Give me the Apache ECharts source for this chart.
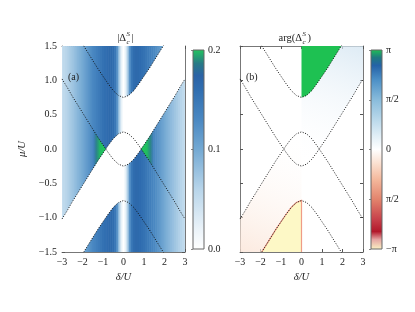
<!DOCTYPE html>
<html><head><meta charset="utf-8">
<script src="https://cdn.jsdelivr.net/npm/echarts@6/dist/echarts.min.js"></script>
<style>html,body{margin:0;padding:0;background:#fff}#c{width:415px;height:312px}</style>
</head><body><div id="c"></div>
<script>
// ---- data ----
const deltaTicks = [-3,-2,-1,0,1,2,3];
const muTicks = [-1.5,-1.0,-0.5,0.0,0.5,1.0,1.5];
const absTicks = [0.0,0.1,0.2];
const argTickLabels = ['\u2212\u03c0','\u03c0/2','0','\u03c0/2','\u03c0'];
const argTickPos = [-2,-1,0,1,2];

// |Delta| profile across delta (columns)
const profileDelta = [-3,-2.9,-2.8,-2.7,-2.6,-2.5,-2.4,-2.3,-2.2,-2.1,-2,-1.9,-1.8,-1.7,-1.6,-1.5,-1.4,-1.3,-1.2,-1.1,-1,-0.9,-0.8,-0.7,-0.6,-0.5,-0.4,-0.3,-0.2,-0.1,0,0.1,0.2,0.3,0.4,0.5,0.6,0.7,0.8,0.9,1,1.1,1.2,1.3,1.4,1.5,1.6,1.7,1.8,1.9,2,2.1,2.2,2.3,2.4,2.5,2.6,2.7,2.8,2.9,3];
const profileAbs = [0.05,0.055,0.06,0.065,0.07,0.075,0.08,0.085,0.09,0.095,0.1,0.106,0.112,0.118,0.124,0.13,0.135,0.14,0.145,0.15,0.155,0.159,0.162,0.165,0.165,0.161,0.148,0.118,0.065,0.022,0.0,0.022,0.065,0.118,0.148,0.161,0.165,0.165,0.162,0.159,0.155,0.15,0.145,0.14,0.135,0.13,0.124,0.118,0.112,0.106,0.1,0.095,0.09,0.085,0.08,0.075,0.07,0.065,0.06,0.055,0.05];

// dotted boundary curves
const curveDelta = [-3,-2.75,-2.5,-2.25,-2,-1.75,-1.5,-1.25,-1,-0.75,-0.5,-0.25,0,0.25,0.5,0.75,1,1.25,1.5,1.75,2,2.25,2.5,2.75,3];
const curveA = [2.02,1.90,1.77,1.65,1.53,1.41,1.29,1.17,1.06,0.95,0.85,0.78,0.75,0.78,0.85,0.95,1.06,1.17,1.29,1.41,1.53,1.65,1.77,1.90,2.02];
const curveB = [-1.02,-0.90,-0.77,-0.65,-0.53,-0.41,-0.29,-0.17,-0.06,0.05,0.15,0.22,0.25,0.22,0.15,0.05,-0.06,-0.17,-0.29,-0.41,-0.53,-0.65,-0.77,-0.90,-1.02];
const curveC = [1.02,0.90,0.77,0.65,0.53,0.41,0.29,0.17,0.06,-0.05,-0.15,-0.22,-0.25,-0.22,-0.15,-0.05,0.06,0.17,0.29,0.41,0.53,0.65,0.77,0.90,1.02];
const curveD = [-2.02,-1.90,-1.77,-1.65,-1.53,-1.41,-1.29,-1.17,-1.06,-0.95,-0.85,-0.78,-0.75,-0.78,-0.85,-0.95,-1.06,-1.17,-1.29,-1.41,-1.53,-1.65,-1.77,-1.90,-2.02];
const crossings = [[-0.86,0],[0.86,0]];

// ---- colour maps ----
const absStops = [[0,'#ffffff'],[0.1,'#ebf3f9'],[0.3,'#b8d5ea'],[0.5,'#74a9d3'],[0.65,'#4a88c2'],[0.8,'#306eb0'],[0.87,'#2b63a6'],[0.93,'#287a86'],[1,'#22c55e']];
const argStops = [[0,'#fbf3c4'],[0.05,'#e6a5a3'],[0.09,'#b2182b'],[0.15,'#c7404a'],[0.25,'#e2836c'],[0.35,'#f4b89c'],[0.43,'#fbe0d0'],[0.5,'#ffffff'],[0.57,'#e0eef6'],[0.65,'#b9d8ea'],[0.75,'#88bbdb'],[0.85,'#4b8fc6'],[0.92,'#2462a7'],[0.96,'#1f7a80'],[1,'#1fc253']];
function hex(c){return [parseInt(c.slice(1,3),16),parseInt(c.slice(3,5),16),parseInt(c.slice(5,7),16)];}
function mapColor(stops,t){
  t=Math.max(0,Math.min(1,t));
  for(let i=1;i<stops.length;i++){
    if(t<=stops[i][0]){
      const a=stops[i-1],b=stops[i];const f=(t-a[0])/(b[0]-a[0]||1);
      const ca=hex(a[1]),cb=hex(b[1]);
      return 'rgb('+ca.map((v,k)=>Math.round(v+(cb[k]-v)*f)).join(',')+')';
    }
  }
  return stops[stops.length-1][1];
}
const zip=(xs,ys)=>xs.map((x,i)=>[x,ys[i]]);

// ---- helpers ----
const FONT='Liberation Serif';
function polySeries(g, pts, style, z){
  return {type:'custom', xAxisIndex:g*2, yAxisIndex:g*2, clip:true, silent:true, z:z||2, data:pts,
    renderItem:(params,api)=> params.dataIndex===0 ? {type:'polygon', shape:{points:pts.map(p=>api.coord(p))}, style:style} : null};
}
function lineSeries(g, ys){
  return {type:'line', xAxisIndex:g*2, yAxisIndex:g*2, data:zip(curveDelta,ys), symbol:'none', showSymbol:false, silent:true, clip:true, z:5,
    lineStyle:{color:'#111', width:1, type:[1,1.6]}};
}
const idx=(a,b)=>{const r=[];if(a<=b){for(let i=a;i<=b;i++)r.push(i);}else{for(let i=a;i>=b;i--)r.push(i);}return r;};
const pts=(ids,ys)=>ids.map(i=>[curveDelta[i],ys[i]]);

// polygons
const bandRight = pts(idx(12,24),curveA).concat(pts(idx(24,12),curveC));   // delta>=0, between C and A
const bandLeft  = pts(idx(0,12),curveD).concat(pts(idx(12,0),curveB));     // delta<=0, between D and B
const overlapLeft  = pts(idx(6,8),curveC).concat([crossings[0]]).concat(pts(idx(8,6),curveB));
const overlapRight = pts(idx(18,16),curveC).concat([crossings[1]]).concat(pts(idx(16,18),curveB));
const phasePlus  = pts(idx(12,24),curveA).concat([[3,2.6],[0,2.6]]);
const phaseMinus = pts(idx(0,12),curveD).concat([[0,-2.6],[-3,-2.6]]);

const LG = echarts.graphic.LinearGradient;
const greenFade = [{offset:0,color:'rgba(48,110,176,0)'},{offset:0.25,color:'rgba(38,130,125,0.75)'},{offset:0.55,color:'#22bb62'},{offset:1,color:'#1fc85a'}];

// ---- axes ----
const axisLineS={show:true,onZero:false,lineStyle:{color:'#777',width:1}};
function xMain(g,pos,labels){
  return {type:'value', gridIndex:g, position:pos, min:-3, max:3, interval:1,
    axisLine:axisLineS, axisTick:{show:true,inside:true,length:3,lineStyle:{color:'#555'}}, splitLine:{show:false},
    axisLabel:{show:labels, fontFamily:FONT, fontSize:10, color:'#222', margin:5, formatter:v=>v<0?'\u2212'+Math.abs(v):String(v)},
    name: labels?'\u03b4/U':'', nameLocation:'middle', nameGap:18, nameTextStyle:{fontFamily:FONT,fontStyle:'italic',fontSize:10.5,color:'#222'}};
}
function yMain(g,pos,labels){
  return {type:'value', gridIndex:g, position:pos, min:-1.5, max:1.5, interval:0.5,
    axisLine:axisLineS, axisTick:{show:true,inside:true,length:3,lineStyle:{color:'#555'}}, splitLine:{show:false},
    axisLabel:{show:labels, fontFamily:FONT, fontSize:10, color:'#222', margin:5, formatter:v=>v<0?'\u2212'+Math.abs(v).toFixed(1):v.toFixed(1)},
    name: labels?'\u03bc/U':'', nameLocation:'middle', nameGap:34, nameRotate:90, nameTextStyle:{fontFamily:FONT,fontStyle:'italic',fontSize:10.5,color:'#222'}};
}

const option = {
  animation:false,
  backgroundColor:'#fff',
  grid:[
    {left:62, top:46, width:123, height:206},
    {left:240, top:46, width:123, height:206},
    {left:193, top:50, width:11, height:199},
    {left:371, top:50, width:11, height:199}
  ],
  xAxis:[
    xMain(0,'bottom',true), xMain(0,'top',false),
    xMain(1,'bottom',true), xMain(1,'top',false),
    {type:'value', gridIndex:2, min:0, max:1, show:false},
    {type:'value', gridIndex:3, min:0, max:1, show:false}
  ],
  yAxis:[
    yMain(0,'left',true), yMain(0,'right',false),
    yMain(1,'left',false), yMain(1,'right',false),
    {type:'value', gridIndex:2, position:'right', min:0, max:0.2, interval:0.1,
      axisLine:{show:false}, axisTick:{show:true,inside:true,length:2,lineStyle:{color:'#888'}}, splitLine:{show:false},
      axisLabel:{fontFamily:FONT,fontSize:10,color:'#222',margin:4,formatter:v=>absTicks[Math.round(v*10)].toFixed(1)}},
    {type:'value', gridIndex:3, position:'right', min:-2, max:2, interval:1,
      axisLine:{show:false}, axisTick:{show:true,inside:true,length:2,lineStyle:{color:'#888'}}, splitLine:{show:false},
      axisLabel:{fontFamily:FONT,fontSize:10,color:'#222',margin:4,formatter:v=>argTickLabels[argTickPos.indexOf(Math.round(v))]}}
  ],
  series:[
    // panel (a): column background from profile
    {type:'custom', xAxisIndex:0, yAxisIndex:0, clip:true, silent:true, z:1, data:zip(profileDelta,profileAbs),
      renderItem:(params,api)=>{const d=api.value(0),v=api.value(1);const p0=api.coord([d-0.05,1.5]),p1=api.coord([d+0.05,-1.5]);
        return {type:'rect',shape:{x:p0[0],y:p0[1],width:p1[0]-p0[0]+0.6,height:p1[1]-p0[1]},style:{fill:mapColor(absStops,v/0.2)}};}},
    polySeries(0,bandRight,{fill:'#ffffff'}),
    polySeries(0,bandLeft,{fill:'#ffffff'}),
    polySeries(0,overlapLeft,{fill:new LG(0,0,1,0,greenFade)}),
    polySeries(0,overlapRight,{fill:new LG(1,0,0,0,greenFade)}),
    lineSeries(0,curveA), lineSeries(0,curveB), lineSeries(0,curveC), lineSeries(0,curveD),
    // panel (b)
    polySeries(1,bandRight,{fill:new LG(1,0,0,1,[{offset:0,color:'rgba(200,222,238,0.95)'},{offset:0.45,color:'rgba(225,237,246,0.5)'},{offset:1,color:'rgba(255,255,255,0)'}])}),
    polySeries(1,bandLeft,{fill:new LG(0,1,1,0,[{offset:0,color:'rgba(250,220,203,0.95)'},{offset:0.45,color:'rgba(252,236,226,0.5)'},{offset:1,color:'rgba(255,255,255,0)'}])}),
    polySeries(1,phasePlus,{fill:'#1ec152'},3),
    polySeries(1,phaseMinus,{fill:'#fdf8c6',stroke:'#ef9c86',lineWidth:1.2},3),
    lineSeries(1,curveA), lineSeries(1,curveB), lineSeries(1,curveC), lineSeries(1,curveD),
    // colorbars
    {type:'custom', xAxisIndex:4, yAxisIndex:4, silent:true, data:[[0,0]],
      renderItem:(params,api)=>{const p0=api.coord([0,0.2]),p1=api.coord([1,0]);
        return {type:'rect',shape:{x:p0[0],y:p0[1],width:p1[0]-p0[0],height:p1[1]-p0[1]},
          style:{fill:new LG(0,1,0,0,absStops.map(s=>({offset:s[0],color:s[1]}))),stroke:'#666',lineWidth:1}};}},
    {type:'custom', xAxisIndex:5, yAxisIndex:5, silent:true, data:[[0,0]],
      renderItem:(params,api)=>{const p0=api.coord([0,2]),p1=api.coord([1,-2]);
        return {type:'rect',shape:{x:p0[0],y:p0[1],width:p1[0]-p0[0],height:p1[1]-p0[1]},
          style:{fill:new LG(0,1,0,0,argStops.map(s=>({offset:s[0],color:s[1]}))),stroke:'#666',lineWidth:1}};}}
  ],
  graphic:[
    {type:'text', left:68, top:72, z:10, style:{text:'(a)', font:'10px "Liberation Serif"', fill:'#222'}},
    {type:'text', left:246, top:72, z:10, style:{text:'(b)', font:'10px "Liberation Serif"', fill:'#222'}},
    // title (a)
    {type:'text', x:126, y:38, z:10, style:{text:'|\u0394', font:'10.5px "Liberation Serif"', fill:'#222', align:'right', verticalAlign:'middle'}},
    {type:'text', x:126.5, y:34, z:10, style:{text:'S', font:'italic 7px "Liberation Serif"', fill:'#222', align:'left', verticalAlign:'middle'}},
    {type:'text', x:126.5, y:42, z:10, style:{text:'c', font:'italic 7px "Liberation Serif"', fill:'#222', align:'left', verticalAlign:'middle'}},
    {type:'text', x:131.5, y:38, z:10, style:{text:'|', font:'10.5px "Liberation Serif"', fill:'#222', align:'left', verticalAlign:'middle'}},
    // title (b)
    {type:'text', x:302, y:38, z:10, style:{text:'arg(\u0394', font:'10.5px "Liberation Serif"', fill:'#222', align:'right', verticalAlign:'middle'}},
    {type:'text', x:302.5, y:34, z:10, style:{text:'S', font:'italic 7px "Liberation Serif"', fill:'#222', align:'left', verticalAlign:'middle'}},
    {type:'text', x:302.5, y:42, z:10, style:{text:'c', font:'italic 7px "Liberation Serif"', fill:'#222', align:'left', verticalAlign:'middle'}},
    {type:'text', x:307.5, y:38, z:10, style:{text:')', font:'10.5px "Liberation Serif"', fill:'#222', align:'left', verticalAlign:'middle'}}
  ]
};
const chart = echarts.init(document.getElementById('c'), null, {renderer:'canvas'});
chart.setOption(option);
</script></body></html>
